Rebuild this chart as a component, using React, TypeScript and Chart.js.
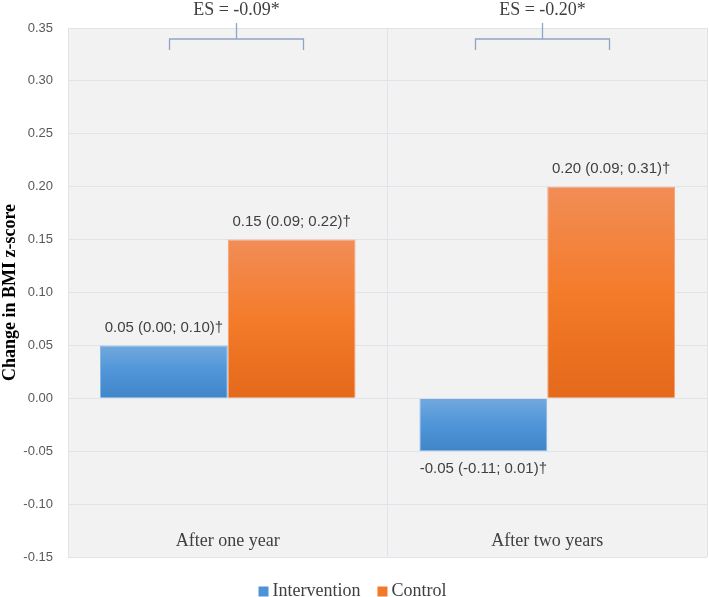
import React, { useEffect, useRef } from "react";
import { Chart, registerables } from "chart.js";

Chart.register(...registerables);

// ---------- data ----------
const categories = ["After one year", "After two years"];
const seriesNames = ["Intervention", "Control"];
const interventionValues = [0.05, -0.05];
const controlValues = [0.15, 0.2];
const interventionLabels = ["0.05 (0.00; 0.10)†", "-0.05 (-0.11; 0.01)†"];
const controlLabels = ["0.15 (0.09; 0.22)†", "0.20 (0.09; 0.31)†"];
const effectSizeLabels = ["ES = -0.09*", "ES = -0.20*"];
const yMin = -0.15;
const yMax = 0.35;
const yStep = 0.05;
const yTitle = "Change in BMI z-score";

// ---------- styles ----------
const SERIF = "'Liberation Serif', 'Times New Roman', serif";
const SANS = "'Liberation Sans', Arial, sans-serif";
const TEXT = "#404040";
const blueStops = ["#72a9de", "#4f95d8", "#3f85c7"];
const orangeStops = ["#f18d57", "#f47b2a", "#e4691a"];
const legendColors = ["#4f93d6", "#f07a2a"];
const bracketShift = [8, -5];

function gradientFor(stops: string[]) {
  return (ctx: any) => {
    const chart = ctx.chart;
    const y = chart.scales?.y;
    if (!chart.chartArea || !y || ctx.type !== "data") return stops[1];
    const v = ctx.raw as number;
    const top = y.getPixelForValue(Math.max(v, 0));
    const bot = y.getPixelForValue(Math.min(v, 0));
    if (!isFinite(top) || !isFinite(bot) || top === bot) return stops[1];
    const g = chart.ctx.createLinearGradient(0, top, 0, bot);
    g.addColorStop(0, stops[0]);
    g.addColorStop(0.5, stops[1]);
    g.addColorStop(1, stops[2]);
    return g;
  };
}

const plotBg = {
  id: "plotBg",
  beforeDraw(chart: any) {
    const { ctx, chartArea } = chart;
    ctx.save();
    ctx.fillStyle = "#f2f2f2";
    ctx.fillRect(chartArea.left, chartArea.top, chartArea.right - chartArea.left, chartArea.bottom - chartArea.top);
    ctx.restore();
  },
};

const annotations = {
  id: "annotations",
  afterDatasetsDraw(chart: any) {
    const { ctx, chartArea, scales } = chart;
    const x = scales.x;
    ctx.save();
    // bar value labels
    const labelSets = [interventionLabels, controlLabels];
    chart.data.datasets.forEach((ds: any, di: number) => {
      const meta = chart.getDatasetMeta(di);
      meta.data.forEach((el: any, i: number) => {
        const v = ds.data[i] as number;
        ctx.font = `15px ${SANS}`;
        ctx.fillStyle = TEXT;
        ctx.textAlign = "center";
        ctx.textBaseline = "middle";
        const ty = v >= 0 ? el.y - 18 : el.y + 18;
        ctx.fillText(labelSets[di][i], el.x, ty);
      });
    });
    // category labels inside plot, near bottom
    ctx.font = `18px ${SERIF}`;
    ctx.fillStyle = TEXT;
    ctx.textAlign = "center";
    ctx.textBaseline = "middle";
    categories.forEach((c, i) => {
      ctx.fillText(c, x.getPixelForValue(i), chartArea.bottom - 16);
    });
    // effect-size brackets
    effectSizeLabels.forEach((lab, i) => {
      const cx = Math.round(x.getPixelForValue(i) + bracketShift[i]) + 0.5;
      const half = 67;
      const t = chartArea.top;
      ctx.strokeStyle = "#8fa5c6";
      ctx.lineWidth = 1.3;
      ctx.beginPath();
      ctx.moveTo(cx, t - 5);
      ctx.lineTo(cx, t + 11);
      ctx.moveTo(cx - half, t + 22);
      ctx.lineTo(cx - half, t + 11);
      ctx.lineTo(cx + half, t + 11);
      ctx.lineTo(cx + half, t + 22);
      ctx.stroke();
      ctx.font = `18px ${SERIF}`;
      ctx.fillStyle = TEXT;
      ctx.textAlign = "center";
      ctx.textBaseline = "middle";
      ctx.fillText(lab, cx, t - 18);
    });
    ctx.restore();
  },
};

const customLegend = {
  id: "customLegend",
  afterDraw(chart: any) {
    const { ctx, width } = chart;
    ctx.save();
    ctx.font = `18px ${SERIF}`;
    const box = 10;
    const gapText = 4;
    const gapItem = 17;
    const names = chart.data.datasets.map((d: any) => d.label as string);
    const widths = names.map((n: string) => box + gapText + ctx.measureText(n).width);
    const total = widths.reduce((a: number, b: number) => a + b, 0) + gapItem * (names.length - 1);
    let xPos = width / 2 - total / 2 - 2;
    const cy = 591.5;
    names.forEach((n: string, i: number) => {
      ctx.fillStyle = legendColors[i];
      ctx.fillRect(xPos, cy - box / 2, box, box);
      ctx.fillStyle = TEXT;
      ctx.textAlign = "left";
      ctx.textBaseline = "alphabetic";
      ctx.fillText(n, xPos + box + gapText, 596);
      xPos += widths[i] + gapItem;
    });
    ctx.restore();
  },
};

export default function App() {
  const ref = useRef<HTMLCanvasElement | null>(null);
  useEffect(() => {
    if (!ref.current) return;
    const chart = new Chart(ref.current, {
      type: "bar",
      data: {
        labels: categories,
        datasets: [
          {
            label: seriesNames[0],
            data: interventionValues,
            backgroundColor: gradientFor(blueStops) as any,
            borderColor: "#86b5e4",
            borderWidth: 1,
          },
          {
            label: seriesNames[1],
            data: controlValues,
            backgroundColor: gradientFor(orangeStops) as any,
            borderColor: "#f5a274",
            borderWidth: 1,
          },
        ],
      },
      options: {
        responsive: false,
        animation: false,
        devicePixelRatio: 1,
        layout: { padding: { left: 0, right: 2, top: 28, bottom: 40 } },
        datasets: { bar: { categoryPercentage: 0.8, barPercentage: 1.0 } },
        plugins: { legend: { display: false }, tooltip: { enabled: false } },
        scales: {
          x: {
            ticks: { display: false },
            grid: { color: "#dfe4eb", drawTicks: false, offset: true },
            border: { display: false },
          },
          y: {
            min: yMin,
            max: yMax,
            ticks: {
              stepSize: yStep,
              callback: (v: any) => Number(v).toFixed(2),
              font: { family: SANS, size: 13 },
              color: "#595959",
              padding: 15,
            },
            grid: { color: "#dfe4eb", drawTicks: false },
            border: { display: false },
            title: {
              display: true,
              text: yTitle,
              font: { family: SERIF, size: 18, weight: "bold" },
              color: "#000",
              padding: { top: 0, bottom: 0 },
            },
            afterFit: (scale: any) => {
              scale.width = 68;
            },
          },
        },
      },
      plugins: [plotBg, annotations, customLegend],
    });
    return () => chart.destroy();
  }, []);
  return (
    <div style={{ position: "fixed", left: 0, top: 0, width: 709, height: 597, background: "#fff" }}>
      <canvas ref={ref} width={709} height={597} style={{ width: 709, height: 597, display: "block" }} />
    </div>
  );
}
